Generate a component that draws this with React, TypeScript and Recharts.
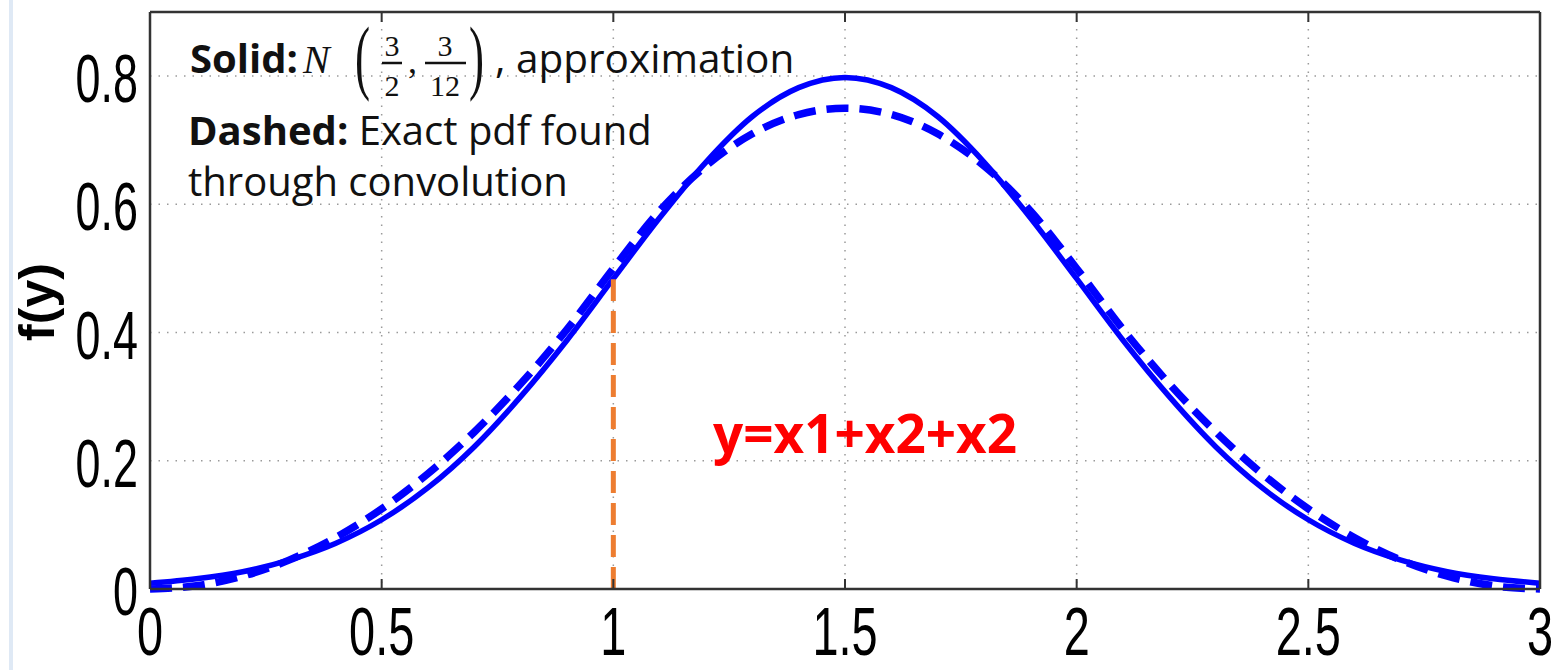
import React from "react";
import {
  LineChart,
  Line,
  XAxis,
  YAxis,
  CartesianGrid,
  ReferenceLine,
} from "recharts";

const xValues = [
  0, 0.1, 0.2, 0.3, 0.4, 0.5, 0.6, 0.7, 0.8, 0.9, 1.0, 1.1, 1.2, 1.3, 1.4, 1.5,
  1.6, 1.7, 1.8, 1.9, 2.0, 2.1, 2.2, 2.3, 2.4, 2.5, 2.6, 2.7, 2.8, 2.9, 3.0,
];
// Solid: normal approximation N(3/2, 3/12)
const approxPdf = [
  0.009, 0.016, 0.027, 0.045, 0.071, 0.108, 0.158, 0.222, 0.3, 0.388, 0.484,
  0.579, 0.666, 0.737, 0.782, 0.798, 0.782, 0.737, 0.666, 0.579, 0.484, 0.388,
  0.3, 0.222, 0.158, 0.108, 0.071, 0.045, 0.027, 0.016, 0.009,
];
// Dashed: exact pdf through convolution
const exactPdf = [
  0, 0.005, 0.02, 0.045, 0.08, 0.125, 0.18, 0.245, 0.32, 0.405, 0.5, 0.59,
  0.66, 0.71, 0.74, 0.75, 0.74, 0.71, 0.66, 0.59, 0.5, 0.405, 0.32, 0.245,
  0.18, 0.125, 0.08, 0.045, 0.02, 0.005, 0,
];
const xTicks = [0, 0.5, 1, 1.5, 2, 2.5, 3];
const yTicks = [0, 0.2, 0.4, 0.6, 0.8];
const markerX = 1;
const markerTop = 0.483;

const data = xValues.map((x, i) => ({
  x,
  approx: approxPdf[i],
  exact: exactPdf[i],
}));

const W = 1557;
const H = 670;
const TICK_FONT = "'Liberation Sans', Arial, sans-serif";
const NOTE_FONT = "'Open Sans', 'Noto Sans', sans-serif";
const MATH_FONT = "'Liberation Serif', 'DejaVu Serif', serif";

const XTick = (props: any) => {
  const { x, y, payload } = props;
  return (
    <text
      transform={`translate(${x},${y + 66}) scale(0.69,1)`}
      textAnchor="middle"
      fontSize={68}
      fontFamily={TICK_FONT}
      fill="#000"
    >
      {String(payload.value)}
    </text>
  );
};

const YTick = (props: any) => {
  const { x, y, payload } = props;
  return (
    <text
      transform={`translate(${x - 12},${y + 26}) scale(0.66,1)`}
      textAnchor="end"
      fontSize={68}
      fontFamily={TICK_FONT}
      fill="#000"
    >
      {String(payload.value)}
    </text>
  );
};

const NoTick = () => <g />;

export default function App() {
  return (
    <div
      style={{
        position: "fixed",
        left: 0,
        top: 0,
        width: W,
        height: H,
        background: "#fff",
        overflow: "hidden",
      }}
    >
      <div
        style={{
          position: "absolute",
          left: 9,
          top: 0,
          width: 4,
          height: H,
          background: "#dfe9f5",
        }}
      />
      <LineChart
        width={W}
        height={H}
        data={data}
        margin={{ top: 12, right: 17, left: 0, bottom: 0 }}
      >
        <CartesianGrid
          xAxisId="main"
          yAxisId="main"
          stroke="#9a9a9a"
          strokeWidth={1.5}
          strokeDasharray="1.5 7"
        />
        <XAxis
          xAxisId="main"
          dataKey="x"
          type="number"
          domain={[0, 3]}
          ticks={xTicks}
          height={81}
          tickSize={0}
          tickMargin={0}
          tickLine={false}
          axisLine={{ stroke: "#333", strokeWidth: 2.5 }}
          tick={<XTick />}
          interval={0}
        />
        <XAxis
          xAxisId="bottomTicks"
          dataKey="x"
          type="number"
          domain={[0, 3]}
          ticks={xTicks}
          orientation="bottom"
          mirror
          tickSize={10}
          tickLine={{ stroke: "#333", strokeWidth: 2 }}
          axisLine={false}
          tick={<NoTick />}
        />
        <XAxis
          xAxisId="top"
          dataKey="x"
          type="number"
          domain={[0, 3]}
          ticks={xTicks}
          orientation="top"
          mirror
          tickSize={10}
          tickLine={{ stroke: "#333", strokeWidth: 2 }}
          axisLine={{ stroke: "#333", strokeWidth: 2.5 }}
          tick={<NoTick />}
        />
        <YAxis
          yAxisId="main"
          type="number"
          domain={[0, 0.9]}
          ticks={yTicks}
          width={150}
          tickSize={0}
          tickMargin={0}
          tickLine={false}
          axisLine={{ stroke: "#333", strokeWidth: 2.5 }}
          tick={<YTick />}
          interval={0}
        />
        <YAxis
          yAxisId="leftTicks"
          type="number"
          domain={[0, 0.9]}
          ticks={yTicks}
          orientation="left"
          mirror
          tickSize={10}
          tickLine={{ stroke: "#333", strokeWidth: 2 }}
          axisLine={false}
          tick={<NoTick />}
        />
        <YAxis
          yAxisId="right"
          type="number"
          domain={[0, 0.9]}
          ticks={yTicks}
          orientation="right"
          mirror
          tickSize={10}
          tickLine={{ stroke: "#333", strokeWidth: 2 }}
          axisLine={{ stroke: "#333", strokeWidth: 2.5 }}
          tick={<NoTick />}
        />
        <Line
          xAxisId="main"
          yAxisId="main"
          type="monotone"
          dataKey="exact"
          stroke="#0000ff"
          strokeWidth={7.5}
          strokeDasharray="22 11"
          dot={false}
          isAnimationActive={false}
        />
        <Line
          xAxisId="main"
          yAxisId="main"
          type="monotone"
          dataKey="approx"
          stroke="#0000ff"
          strokeWidth={5.5}
          dot={false}
          isAnimationActive={false}
        />
        <ReferenceLine
          xAxisId="main"
          yAxisId="main"
          segment={[
            { x: markerX, y: 0 },
            { x: markerX, y: markerTop },
          ]}
          stroke="#ED7D31"
          strokeWidth={5}
          strokeDasharray="22 10"
        />
      </LineChart>
      <svg
        width={W}
        height={H}
        style={{ position: "absolute", left: 0, top: 0, pointerEvents: "none" }}
      >
        <text
          transform="translate(54,302) rotate(-90)"
          textAnchor="middle"
          fontSize={50}
          fontWeight="bold"
          fontFamily={TICK_FONT}
          fill="#000"
        >
          f(y)
        </text>
        <g fill="#111">
          <text x={190} y={73} fontSize={40} fontFamily={NOTE_FONT} fontWeight="bold">
            Solid:
          </text>
          <text x={303} y={73} fontSize={40} fontFamily={MATH_FONT} fontStyle="italic">
            N
          </text>
          <text x={355} y={84} fontSize={82} fontFamily={MATH_FONT} transform="translate(355,0) scale(0.55,1) translate(-355,0)">
            (
          </text>
          <text x={392} y={56} fontSize={30} fontFamily={MATH_FONT} textAnchor="middle">
            3
          </text>
          <line x1={382} x2={402} y1={63} y2={63} stroke="#111" strokeWidth={2.5} />
          <text x={392} y={96} fontSize={30} fontFamily={MATH_FONT} textAnchor="middle">
            2
          </text>
          <text x={408} y={73} fontSize={36} fontFamily={MATH_FONT}>
            ,
          </text>
          <text x={445} y={56} fontSize={30} fontFamily={MATH_FONT} textAnchor="middle">
            3
          </text>
          <line x1={425} x2={466} y1={63} y2={63} stroke="#111" strokeWidth={2.5} />
          <text x={445} y={96} fontSize={30} fontFamily={MATH_FONT} textAnchor="middle">
            12
          </text>
          <text x={469} y={84} fontSize={82} fontFamily={MATH_FONT} transform="translate(469,0) scale(0.55,1) translate(-469,0)">
            )
          </text>
          <text x={495} y={73} fontSize={40.5} fontFamily={NOTE_FONT}>
            , approximation
          </text>
          <text x={188} y={145} fontSize={40} fontFamily={NOTE_FONT}>
            <tspan fontWeight="bold">Dashed:</tspan> Exact pdf found
          </text>
          <text x={188} y={196} fontSize={40} fontFamily={NOTE_FONT}>
            through convolution
          </text>
        </g>
        <text
          x={865}
          y={453}
          textAnchor="middle"
          fontSize={53}
          fontWeight="bold"
          fontFamily={NOTE_FONT}
          fill="#ff0000"
        >
          y=x1+x2+x2
        </text>
      </svg>
    </div>
  );
}
